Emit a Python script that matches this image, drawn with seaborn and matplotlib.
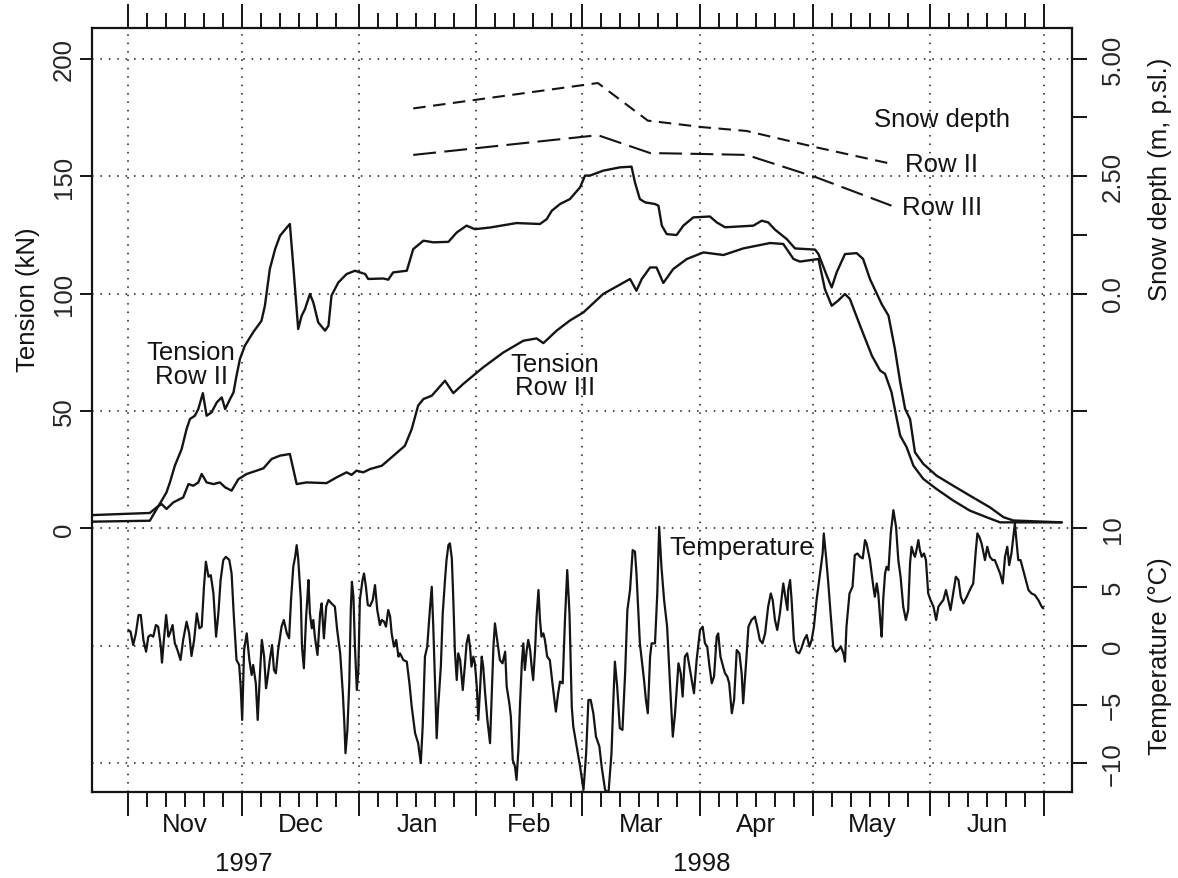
import matplotlib
matplotlib.use("Agg")
import matplotlib.pyplot as plt
import matplotlib.transforms as mtransforms
import pandas as pd
import seaborn as sns

# ---------------------------------------------------------------------------
# Data (time in days counted from 1 November 1997)
# ---------------------------------------------------------------------------
month_names = ["Nov", "Dec", "Jan", "Feb", "Mar", "Apr", "May", "Jun"]
month_start_days = [0, 30, 61, 92, 120, 151, 181, 212, 242]
year_names = ["1997", "1998"]
year_first_month = [0, 2]          # index into month_names where each year starts

tension_ticks = [0, 50, 100, 150, 200]
snow_ticks = [-2.5, 0.0, 1.25, 2.5, 3.75, 5.0]
snow_tick_labels = ["", "0.0", "", "2.50", "", "5.00"]
temp_ticks = [-10, -5, 0, 5, 10]
temp_tick_labels = ["\u221210", "\u22125", "0", "5", "10"]

# Cable tension, row II (kN)
tension_row2_day = [
    -9.5, 5.7, 7.5, 8.8, 10.1, 11.0, 12.3, 14.1, 15.4, 16.3,
    17.6, 18.5, 19.7, 20.7, 22.0, 23.4, 24.7, 25.6, 26.9, 27.8,
    28.6, 29.5, 30.8, 33.0, 35.2, 36.1, 37.4, 38.8, 40.1, 41.9,
    42.7, 43.6, 44.9, 45.8, 46.7, 48.0, 48.9, 50.2, 52.0, 52.9,
    53.7, 55.5, 57.7, 59.9, 62.6, 63.4, 67.4, 68.7, 70.0, 73.6,
    75.3, 78.0, 80.6, 84.6, 86.8, 89.4, 91.6, 95.6, 102.6, 108.8,
    110.6, 111.9, 114.1, 116.7, 119.4, 120.7, 122.0, 125.5, 129.9, 133.0,
    133.9, 135.2, 136.6, 139.2, 140.1, 141.0, 142.3, 144.9, 146.7, 149.3,
    153.7, 155.5, 157.7, 165.2, 167.4, 169.1, 170.9, 174.0, 176.2, 181.5,
    182.4, 184.6, 185.9, 187.2, 189.4, 192.5, 194.2, 196.0, 199.1, 200.9,
    202.6, 204.0, 205.3, 206.6, 207.9, 210.1, 213.6, 218.0, 222.4, 227.7,
    231.3, 233.9, 246.7,
]
tension_row2_kn = [
    2.9, 3.3, 8.3, 11.8, 15.4, 19.6, 26.7, 33.8, 42.3, 46.6,
    48.0, 50.8, 57.6, 48.0, 49.4, 53.7, 55.8, 50.8, 55.1, 57.9,
    65.0, 72.1, 77.8, 83.5, 88.4, 94.8, 110.4, 118.9, 124.6, 128.1,
    129.6, 111.8, 84.9, 90.5, 93.4, 99.8, 96.2, 87.7, 84.2, 86.3,
    99.1, 104.7, 108.3, 109.7, 108.3, 106.2, 106.4, 105.9, 109.0, 109.7,
    118.9, 122.5, 121.8, 122.0, 126.0, 128.9, 127.4, 128.1, 130.0, 129.6,
    131.7, 135.2, 138.1, 140.2, 145.2, 150.2, 150.2, 152.3, 153.7, 154.0,
    147.3, 140.2, 138.8, 138.1, 137.4, 128.9, 125.3, 124.9, 128.9, 132.4,
    132.8, 130.3, 128.2, 128.9, 131.0, 130.3, 127.2, 123.2, 119.2, 118.7,
    116.8, 107.6, 102.6, 109.0, 116.8, 117.2, 114.7, 106.2, 95.5, 90.6,
    76.4, 62.2, 50.9, 46.6, 32.4, 27.5, 22.5, 18.2, 14.0, 9.0,
    4.8, 3.4, 2.6,
]

# Cable tension, row III (kN)
tension_row3_day = [
    -9.5, 5.7, 7.5, 8.8, 10.1, 11.9, 14.5, 15.9, 17.2, 18.5,
    19.4, 20.7, 22.5, 24.2, 25.6, 27.3, 29.1, 31.3, 33.9, 35.7,
    37.9, 40.1, 42.7, 44.5, 47.1, 52.4, 55.1, 57.7, 59.0, 60.3,
    62.1, 63.9, 67.0, 69.6, 73.1, 74.9, 76.6, 78.0, 80.2, 83.7,
    85.9, 88.5, 93.8, 99.1, 104.4, 107.9, 109.7, 113.2, 116.7, 120.3,
    125.5, 132.6, 134.3, 135.7, 137.9, 139.6, 141.4, 144.0, 147.6, 152.0,
    157.3, 162.5, 169.6, 173.1, 175.8, 177.5, 182.4, 184.1, 185.9, 187.6,
    189.4, 190.7, 193.4, 196.5, 198.7, 200.0, 201.7, 203.1, 204.0, 205.7,
    207.5, 210.1, 213.6, 218.0, 222.4, 226.8, 230.4, 246.7,
]
tension_row3_kn = [
    5.7, 6.6, 9.0, 10.4, 8.3, 11.1, 13.2, 18.9, 18.2, 19.6,
    23.2, 19.6, 18.9, 19.6, 17.5, 16.1, 21.0, 23.2, 24.6, 25.6,
    29.6, 31.0, 31.7, 18.9, 19.6, 19.3, 21.8, 23.9, 22.8, 24.6,
    23.9, 25.3, 26.7, 30.3, 35.2, 42.3, 52.3, 55.1, 56.5, 62.9,
    57.6, 61.5, 68.6, 74.9, 79.9, 80.9, 78.9, 84.2, 88.5, 92.0,
    99.8, 106.2, 101.2, 106.2, 111.1, 111.1, 104.5, 110.4, 114.7, 117.5,
    116.4, 119.2, 121.5, 121.1, 114.7, 113.6, 114.7, 101.9, 94.8, 97.0,
    99.8, 97.7, 86.3, 73.6, 67.2, 65.8, 58.0, 46.6, 39.5, 34.6,
    26.7, 21.1, 16.8, 11.9, 7.6, 4.8, 2.6, 2.6,
]

# Snow depth at the two rows (m, perpendicular to slope)
snow_row2_day = [75.3, 124.1, 137.3, 151.9, 163.4, 181.9, 201.7]
snow_row2_m = [3.94, 4.48, 3.68, 3.54, 3.46, 3.11, 2.76]
snow_row3_day = [75.3, 124.1, 137.9, 151.9, 163.4, 181.9, 201.7]
snow_row3_m = [2.95, 3.37, 2.99, 2.97, 2.95, 2.47, 1.87]

# Air temperature (deg C)
temperature_day = [
    0.0, 0.6, 1.3, 2.0, 2.7, 3.3, 4.0, 4.7, 5.3, 5.9,
    6.6, 7.3, 7.9, 8.6, 8.9, 9.4, 10.0, 10.6, 11.0, 11.7,
    12.3, 13.0, 13.8, 14.5, 15.4, 16.1, 16.7, 17.4, 18.1, 18.8,
    19.4, 20.0, 20.5, 21.2, 21.8, 22.5, 23.2, 23.8, 24.4, 25.1,
    25.8, 26.7, 27.3, 27.9, 28.6, 29.3, 29.7, 30.1, 30.6, 31.3,
    32.0, 32.6, 33.0, 33.7, 34.2, 34.8, 35.3, 35.9, 36.4, 36.8,
    37.4, 38.0, 38.5, 39.0, 39.6, 40.5, 41.1, 41.9, 42.5, 43.0,
    43.6, 44.1, 44.5, 44.9, 45.6, 45.9, 46.4, 47.0, 47.3, 47.6,
    48.0, 48.5, 48.9, 49.3, 50.0, 50.7, 51.1, 51.7, 52.3, 52.9,
    53.7, 54.6, 55.2, 56.0, 56.7, 57.1, 57.4, 57.9, 58.4, 58.8,
    59.1, 59.5, 59.9, 60.4, 60.8, 61.2, 61.9, 62.3, 62.8, 63.3,
    63.9, 64.6, 65.2, 65.8, 66.5, 67.0, 67.6, 68.1, 68.7, 69.2,
    69.6, 70.2, 70.8, 71.4, 71.8, 72.7, 73.6, 74.3, 74.9, 75.8,
    76.6, 77.3, 77.8, 78.4, 79.0, 79.7, 80.2, 80.6, 81.1, 81.5,
    81.9, 82.6, 83.1, 83.7, 84.1, 84.6, 85.0, 85.5, 85.9, 86.3,
    86.8, 87.2, 87.7, 88.4, 89.0, 89.4, 89.9, 90.3, 90.7, 91.2,
    91.6, 92.1, 92.5, 93.0, 93.4, 93.8, 94.3, 94.9, 95.6, 96.0,
    96.5, 96.9, 97.5, 98.2, 98.9, 99.6, 100.0, 100.7, 101.1, 101.6,
    102.2, 102.6, 103.1, 103.5, 104.0, 104.4, 104.8, 105.3, 105.7, 106.2,
    106.6, 107.0, 107.5, 107.9, 108.4, 108.8, 109.2, 109.7, 110.1, 110.7,
    111.4, 112.3, 113.0, 113.6, 114.1, 114.8, 115.4, 116.0, 116.6, 117.2,
    117.6, 118.5, 119.4, 120.3, 121.0, 121.6, 122.2, 122.9, 123.6, 124.5,
    125.1, 126.0, 126.9, 127.7, 128.2, 128.6, 129.2, 129.9, 130.6, 131.3,
    131.9, 132.6, 133.3, 133.9, 134.3, 135.2, 136.3, 136.8, 137.3, 137.9,
    138.3, 139.2, 139.8, 140.3, 140.9, 141.6, 142.4, 143.2, 143.9, 144.5,
    145.4, 146.0, 146.5, 147.1, 147.7, 148.3, 148.9, 149.5, 150.2, 151.1,
    151.8, 152.4, 153.0, 153.6, 154.2, 154.8, 155.5, 155.9, 156.5, 157.2,
    157.7, 158.3, 158.8, 159.5, 160.1, 160.8, 161.5, 162.1, 162.5, 163.2,
    163.9, 164.7, 165.6, 166.2, 166.9, 167.6, 168.3, 169.1, 169.8, 170.3,
    170.9, 171.5, 172.2, 173.1, 173.5, 174.2, 174.4, 174.9, 175.3, 175.9,
    176.6, 177.3, 177.9, 178.6, 179.3, 180.0, 180.6, 181.2, 181.9, 182.8,
    183.5, 183.8, 184.4, 185.0, 185.6, 186.3, 187.0, 187.6, 188.3, 189.0,
    189.4, 189.8, 190.6, 191.4, 192.0, 192.7, 193.4, 194.1, 194.7, 195.1,
    196.0, 196.9, 197.3, 197.8, 198.2, 198.8, 199.1, 199.5, 200.0, 200.4,
    200.9, 201.5, 202.2, 202.9, 203.5, 204.1, 204.8, 205.5, 206.1, 206.6,
    207.0, 207.5, 207.9, 208.3, 208.8, 209.2, 209.7, 210.3, 210.8, 211.4,
    212.0, 212.8, 213.5, 214.1, 214.7, 215.4, 216.1, 216.7, 217.3, 218.0,
    218.7, 219.4, 220.0, 220.7, 221.6, 222.4, 223.3, 224.0, 224.4, 224.9,
    225.5, 226.4, 227.0, 227.7, 228.4, 229.0, 229.7, 230.4, 231.1, 231.7,
    232.3, 232.8, 233.4, 233.9, 234.3, 234.8, 235.2, 235.8, 236.5, 237.2,
    237.9, 238.7, 239.6, 240.5, 241.4, 241.8,
]
temperature_c = [
    1.36, 1.21, 0.08, 1.07, 2.63, 2.63, 0.51, -0.49, 0.79, 0.93,
    0.79, 1.78, 1.64, -0.06, -1.42, 0.51, 2.63, 0.79, 1.07, 1.78,
    0.22, -0.35, -1.20, 0.51, 2.06, 1.07, -0.86, 0.51, 2.77, 1.50,
    1.64, 5.04, 7.17, 5.89, 6.03, 4.47, 0.79, 2.77, 5.61, 7.31,
    7.59, 7.31, 6.17, 2.49, -1.20, -1.62, -3.46, -6.30, -0.35, 1.07,
    -1.20, -2.47, -1.62, -3.18, -6.30, -2.33, 0.51, -0.91, -3.60, -2.75,
    -1.20, 0.08, -2.05, -2.33, -0.35, 1.64, 2.21, 1.07, 0.65, 3.91,
    6.74, 7.59, 8.58, 7.45, 3.91, -0.06, -1.90, 2.49, 3.91, 5.61,
    2.77, 1.50, 2.21, 0.79, -0.77, 2.77, 3.62, 0.65, 3.34, 3.91,
    3.62, 3.34, 1.36, -0.63, -4.03, -6.58, -9.13, -7.15, -3.18, 3.06,
    5.46, 4.19, -0.06, -3.75, -2.05, 3.91, 5.61, 6.17, 5.04, 3.48,
    3.40, 3.91, 5.18, 3.06, 1.78, 2.21, 2.06, 1.64, 3.06, 2.49,
    1.07, -0.06, 0.51, -0.91, -0.63, -1.20, -1.34, -3.18, -5.16, -7.43,
    -8.28, -9.98, -6.86, -0.91, -0.06, 3.06, 5.04, 1.64, -3.46, -7.86,
    -5.16, -1.76, 2.77, 5.61, 7.31, 8.58, 8.73, 7.45, 3.91, -0.35,
    -2.90, -0.63, -1.20, -3.75, -1.48, 0.22, 0.93, -0.06, -1.76, -0.91,
    -1.48, -3.46, -6.30, -3.46, -0.91, -1.76, -4.03, -6.30, -8.28, -4.60,
    -0.06, 1.92, 0.51, -1.20, -1.48, -0.49, -3.46, -4.88, -6.01, -9.70,
    -10.27, -11.40, -8.85, -5.16, -1.48, 0.22, -2.05, -0.35, 0.51, -0.35,
    -1.76, -2.90, -0.35, 2.49, 4.76, 2.21, 0.79, 1.07, 0.51, -0.91,
    -1.20, -3.75, -5.59, -4.03, -3.04, -3.18, 2.21, 6.46, 2.77, -5.16,
    -6.86, -8.56, -10.27, -12.25, -9.13, -4.60, -4.60, -5.73, -7.72, -8.56,
    -10.27, -12.25, -12.53, -9.13, -4.60, -1.34, -3.46, -7.00, -7.15, -2.33,
    3.06, 4.76, 8.16, 8.02, 6.17, 0.22, -2.90, -4.60, -5.73, -0.91,
    0.22, 0.22, 4.47, 10.14, 6.74, 3.91, 1.64, -3.46, -7.72, -5.73,
    -1.48, -2.33, -4.31, -0.91, -0.63, -1.76, -2.90, -4.03, -1.20, 1.36,
    1.64, 0.22, -0.06, -1.76, -3.18, -2.61, 0.79, 1.07, -0.91, -1.76,
    -2.33, -2.61, -3.18, -5.73, -4.60, -0.35, -0.63, -2.33, -4.88, -1.76,
    1.64, 2.21, 2.49, 1.64, 0.51, 0.22, 1.07, 3.34, 4.47, 3.91,
    2.21, 1.36, 2.77, 5.32, 4.47, 3.06, 4.76, 5.61, 3.91, 0.51,
    -0.49, -0.63, -0.20, 0.51, 0.93, -0.06, 0.51, 1.64, 3.91, 6.17,
    7.87, 9.58, 7.59, 5.32, 2.77, -0.06, -0.49, -0.35, -0.06, -0.63,
    -1.34, 1.64, 4.47, 5.04, 7.73, 7.87, 7.59, 7.45, 9.01, 8.73,
    7.31, 5.04, 4.19, 5.32, 4.47, 1.92, 0.79, 3.91, 6.17, 6.74,
    6.46, 9.58, 11.56, 10.14, 7.31, 5.89, 3.34, 2.21, 3.06, 7.02,
    8.44, 7.87, 7.59, 8.16, 9.01, 8.16, 7.59, 7.87, 7.31, 4.47,
    3.91, 3.34, 2.21, 3.34, 3.62, 3.91, 4.76, 3.91, 3.06, 4.47,
    5.89, 5.61, 4.19, 3.62, 4.19, 4.76, 5.32, 8.16, 9.58, 9.29,
    8.73, 7.31, 8.44, 7.59, 7.31, 7.31, 6.74, 6.17, 5.32, 7.59,
    8.44, 6.88, 7.87, 9.29, 10.43, 8.73, 7.31, 7.31, 6.46, 5.61,
    4.76, 4.47, 4.33, 3.91, 3.34, 3.20,
]

# ---------------------------------------------------------------------------
# Axis ranges: one shared frame, three vertical scales
# ---------------------------------------------------------------------------
x_range = (-9.46, 249.4)
tension_range = (-112.3, 212.9)
snow_range = tuple((t - 100.0) / 20.0 for t in tension_range)   # 0 m at 100 kN, 5 m at 200 kN
temp_range = tuple(t / 5.0 + 10.0 for t in tension_range)        # 10 C at 0 kN, -10 C at -100 kN
grid_levels = [-100, -50, 0, 50, 100, 150, 200]

# ---------------------------------------------------------------------------
# Style
# ---------------------------------------------------------------------------
sns.set_style("white")
plt.rcParams["font.family"] = ["Liberation Sans", "DejaVu Sans"]
plt.rcParams["font.size"] = 18.5
INK = "#141414"
FS = 18.5
DOT = (0, (1.0, 4.5))

fig = plt.figure(figsize=(11.78, 8.79), dpi=100)
ax = fig.add_axes([0.07852, 0.09750, 0.83149, 0.86917])
ax.set_facecolor("white")

# Dotted reference grid
for level in grid_levels:
    ax.axhline(level, color=INK, lw=1.1, linestyle=DOT, zorder=1)
for d in month_start_days:
    ax.axvline(d, color=INK, lw=1.1, linestyle=DOT, zorder=1)

# Tension curves
df_r2 = pd.DataFrame({"day": tension_row2_day, "kN": tension_row2_kn})
df_r3 = pd.DataFrame({"day": tension_row3_day, "kN": tension_row3_kn})
sns.lineplot(data=df_r2, x="day", y="kN", ax=ax, color=INK, lw=1.7,
             sort=False, estimator=None, zorder=3)
sns.lineplot(data=df_r3, x="day", y="kN", ax=ax, color=INK, lw=1.7,
             sort=False, estimator=None, zorder=3)

ax.set_xlim(*x_range)
ax.set_ylim(*tension_range)
ax.set_xlabel("")
ax.set_ylabel("")

# Snow depth on its own scale
ax_snow = ax.twinx()
df_s2 = pd.DataFrame({"day": snow_row2_day, "m": snow_row2_m})
df_s3 = pd.DataFrame({"day": snow_row3_day, "m": snow_row3_m})
sns.lineplot(data=df_s2, x="day", y="m", ax=ax_snow, color=INK, lw=1.5,
             sort=False, estimator=None)
ax_snow.lines[-1].set_dashes((6.0, 3.6))
sns.lineplot(data=df_s3, x="day", y="m", ax=ax_snow, color=INK, lw=1.5,
             sort=False, estimator=None)
ax_snow.lines[-1].set_dashes((11.0, 4.0))
ax_snow.set_ylim(*snow_range)
ax_snow.set_xlim(*x_range)
ax_snow.set_ylabel("")

# Temperature on its own scale
ax_temp = ax.twinx()
df_t = pd.DataFrame({"day": temperature_day, "C": temperature_c})
sns.lineplot(data=df_t, x="day", y="C", ax=ax_temp, color=INK, lw=1.6,
             sort=False, estimator=None)
ax_temp.set_ylim(*temp_range)
ax_temp.set_xlim(*x_range)
ax_temp.set_ylabel("")

for a in (ax_snow, ax_temp):
    a.patch.set_visible(False)
    for s in a.spines.values():
        s.set_visible(False)

for s in ax.spines.values():
    s.set_visible(True)
    s.set_color(INK)
    s.set_linewidth(1.6)

# Time ticks on bottom and top: long at month starts, short every five days
minor_days = [s + k for s in month_start_days[:-1] for k in (5, 10, 15, 20, 25)]
ax.set_xticks(month_start_days)
ax.set_xticks(minor_days, minor=True)
ax.tick_params(axis="x", which="both", direction="out", bottom=True, top=True,
               labelbottom=False, labeltop=False, color=INK, width=1.4)
ax.tick_params(axis="x", which="major", length=17.5)
ax.tick_params(axis="x", which="minor", length=11)

# Left scale: tension
ax.set_yticks(tension_ticks)
ax.set_yticklabels([str(v) for v in tension_ticks], rotation=90,
                   ha="center", va="center", fontsize=FS)
ax.tick_params(axis="y", which="major", left=True, right=False, direction="out",
               length=8.6, width=1.4, pad=12.0, color=INK)
ax.tick_params(axis="y", which="minor", left=False, right=False)

# Right scales: snow depth and temperature
ax_snow.set_yticks(snow_ticks)
ax_snow.set_yticklabels(snow_tick_labels, rotation=90, ha="center", va="center",
                        fontsize=FS)
ax_snow.tick_params(axis="y", which="major", right=True, left=False, direction="out",
                    length=11, width=1.4, pad=18.5, color=INK)
ax_temp.set_yticks(temp_ticks)
ax_temp.set_yticklabels(temp_tick_labels, rotation=90, ha="center", va="center",
                        fontsize=FS)
ax_temp.tick_params(axis="y", which="major", right=True, left=False, direction="out",
                    length=11, width=1.4, pad=18.5, color=INK)

# Month and year names under the axis
for i, name in enumerate(month_names):
    mid = (month_start_days[i] + month_start_days[i + 1]) / 2.0
    ax.annotate(name, xy=(mid, 0), xycoords=("data", "axes fraction"),
                xytext=(0, -23), textcoords="offset points",
                ha="center", va="center", fontsize=FS, color=INK)
for j, year in enumerate(year_names):
    first = month_start_days[year_first_month[j]]
    last_idx = year_first_month[j + 1] if j + 1 < len(year_first_month) else len(month_names)
    last = month_start_days[last_idx]
    ax.annotate(year, xy=((first + last) / 2.0, 0), xycoords=("data", "axes fraction"),
                xytext=(0, -51), textcoords="offset points",
                ha="center", va="center", fontsize=FS, color=INK)

# Axis titles
left_tr = mtransforms.blended_transform_factory(fig.transFigure, ax.transData)
fig.text(0.0238, 98, "Tension (kN)", transform=left_tr, rotation=90,
         ha="center", va="center", fontsize=FS, color=INK)
snow_tr = mtransforms.blended_transform_factory(fig.transFigure, ax_snow.transData)
fig.text(0.9847, 2.45, "Snow depth (m, p.sl.)", transform=snow_tr, rotation=90,
         ha="center", va="center", fontsize=FS, color=INK)
temp_tr = mtransforms.blended_transform_factory(fig.transFigure, ax_temp.transData)
fig.text(0.9847, -0.8, "Temperature (\u00b0C)", transform=temp_tr, rotation=90,
         ha="center", va="center", fontsize=FS, color=INK)

# Curve labels
ax.text(16.6, 70.0, "Tension\nRow II", ha="center", va="center", fontsize=FS,
        color=INK, linespacing=0.95, zorder=4)
ax.text(112.8, 65.0, "Tension\nRow III", ha="center", va="center", fontsize=FS,
        color=INK, linespacing=0.95, zorder=4)
ax_snow.text(215.0, 3.72, "Snow depth", ha="center", va="center", fontsize=FS, color=INK)
ax_snow.text(214.8, 2.76, "Row II", ha="center", va="center", fontsize=FS, color=INK)
ax_snow.text(215.0, 1.84, "Row III", ha="center", va="center", fontsize=FS, color=INK)
ax_temp.text(162.2, 8.42, "Temperature", ha="center", va="center", fontsize=FS, color=INK)

fig.savefig("out.png", dpi=100, facecolor="white")
